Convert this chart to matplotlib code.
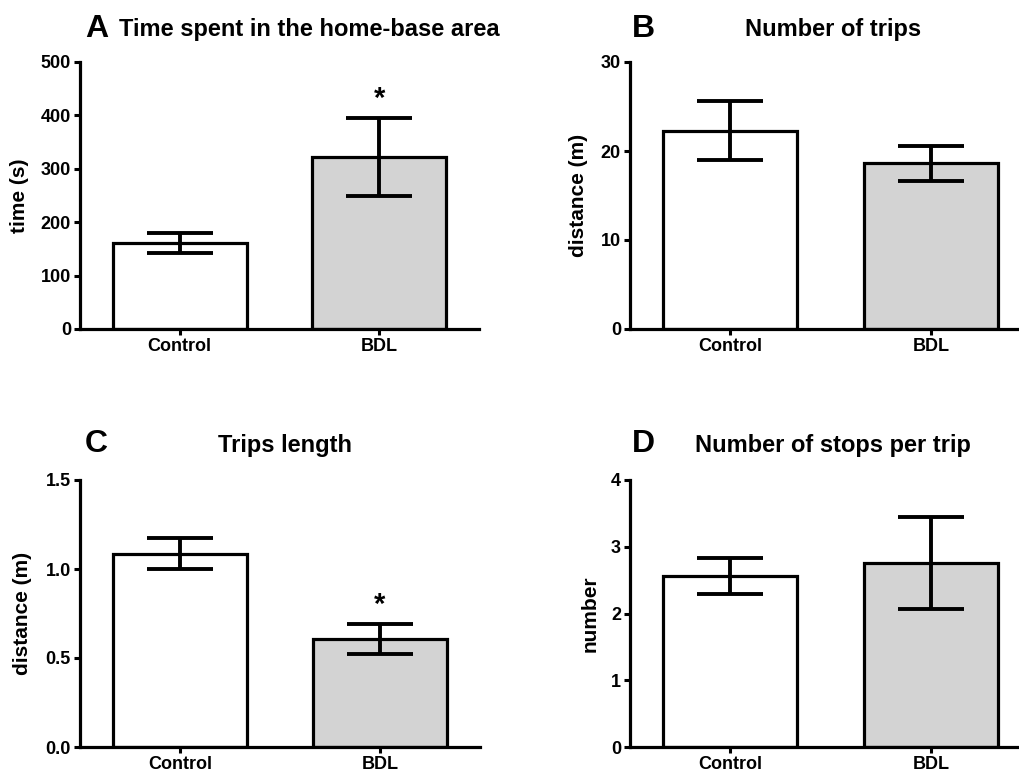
import matplotlib
matplotlib.use("Agg")
import matplotlib.pyplot as plt
from matplotlib.ticker import FormatStrFormatter

plt.rcParams['font.family'] = ['Liberation Sans', 'DejaVu Sans']
plt.rcParams['font.weight'] = 'bold'

categories = ["Control", "BDL"]
bar_colors = ["white", "#d3d3d3"]

# Panel A: Time spent in the home-base area
time_mean = [161, 322]
time_err = [19, 73]
time_ticks = [0, 100, 200, 300, 400, 500]

# Panel B: Number of trips
trips_mean = [22.3, 18.6]
trips_err = [3.3, 2.0]
trips_ticks = [0, 10, 20, 30]

# Panel C: Trips length
length_mean = [1.087, 0.605]
length_err = [0.085, 0.085]
length_ticks = [0.0, 0.5, 1.0, 1.5]

# Panel D: Number of stops per trip
stops_mean = [2.565, 2.76]
stops_err = [0.27, 0.69]
stops_ticks = [0, 1, 2, 3, 4]

W, H = 1019, 772
fig = plt.figure(figsize=(W / 100, H / 100), dpi=100)


def px_axes(left, right, top, bottom):
    return fig.add_axes([left / W, (H - bottom) / H, (right - left) / W, (bottom - top) / H])


panels = [
    dict(box=(80, 479, 62, 329), mean=time_mean, err=time_err, ticks=time_ticks,
         ylabel="time (s)", ylab_x=20, letter="A", letter_xy=(85, 37),
         title="Time spent in the home-base area", title_xy=(309, 36),
         stars=[False, True], fmt=None),
    dict(box=(630, 1031, 62, 329), mean=trips_mean, err=trips_err, ticks=trips_ticks,
         ylabel="distance (m)", ylab_x=578, letter="B", letter_xy=(632, 37),
         title="Number of trips", title_xy=(833, 36),
         stars=[False, False], fmt=None),
    dict(box=(80, 480, 480, 747), mean=length_mean, err=length_err, ticks=length_ticks,
         ylabel="distance (m)", ylab_x=23, letter="C", letter_xy=(85, 452),
         title="Trips length", title_xy=(285, 452),
         stars=[False, True], fmt="%.1f"),
    dict(box=(630, 1031, 480, 747), mean=stops_mean, err=stops_err, ticks=stops_ticks,
         ylabel="number", ylab_x=590, letter="D", letter_xy=(632, 452),
         title="Number of stops per trip", title_xy=(833, 452),
         stars=[False, False], fmt=None),
]

for p in panels:
    left, right, top, bottom = p["box"]
    ax = px_axes(left, right, top, bottom)
    x = list(range(len(categories)))
    ax.bar(x, p["mean"], width=0.67, color=bar_colors, edgecolor="black",
           linewidth=2.3, zorder=2)
    ax.errorbar(x, p["mean"], yerr=p["err"], fmt="none", ecolor="black",
                elinewidth=2.8, capsize=24, capthick=2.8, zorder=3)
    ax.set_xlim(-0.5, 1.5)
    ax.set_ylim(p["ticks"][0], p["ticks"][-1])
    ax.set_yticks(p["ticks"])
    if p["fmt"]:
        ax.yaxis.set_major_formatter(FormatStrFormatter(p["fmt"]))
    ax.set_xticks(x)
    ax.set_xticklabels(categories)
    for s in ["top", "right"]:
        ax.spines[s].set_visible(False)
    for s in ["left", "bottom"]:
        ax.spines[s].set_linewidth(2.3)
    ax.tick_params(axis="both", direction="out", length=4.5, width=2.2,
                   labelsize=13, pad=2)
    for lab in ax.get_xticklabels() + ax.get_yticklabels():
        lab.set_fontweight("bold")
    ax.set_ylabel(p["ylabel"], fontsize=15, fontweight="bold")
    ax.yaxis.label.set_va("center")
    ax.yaxis.set_label_coords((p["ylab_x"] - left) / (right - left), 0.5)
    for i, st in enumerate(p["stars"]):
        if st:
            ax.annotate("*", xy=(x[i], p["mean"][i] + p["err"][i]),
                        xytext=(0, 8), textcoords="offset points",
                        ha="center", va="baseline", fontsize=21,
                        fontweight="bold")
    lx, ly = p["letter_xy"]
    fig.text(lx / W, (H - ly) / H, p["letter"], fontsize=23, fontweight="bold",
             ha="left", va="baseline")
    tx, ty = p["title_xy"]
    fig.text(tx / W, (H - ty) / H, p["title"], fontsize=17, fontweight="bold",
             ha="center", va="baseline")

fig.savefig("out.png", dpi=100)
